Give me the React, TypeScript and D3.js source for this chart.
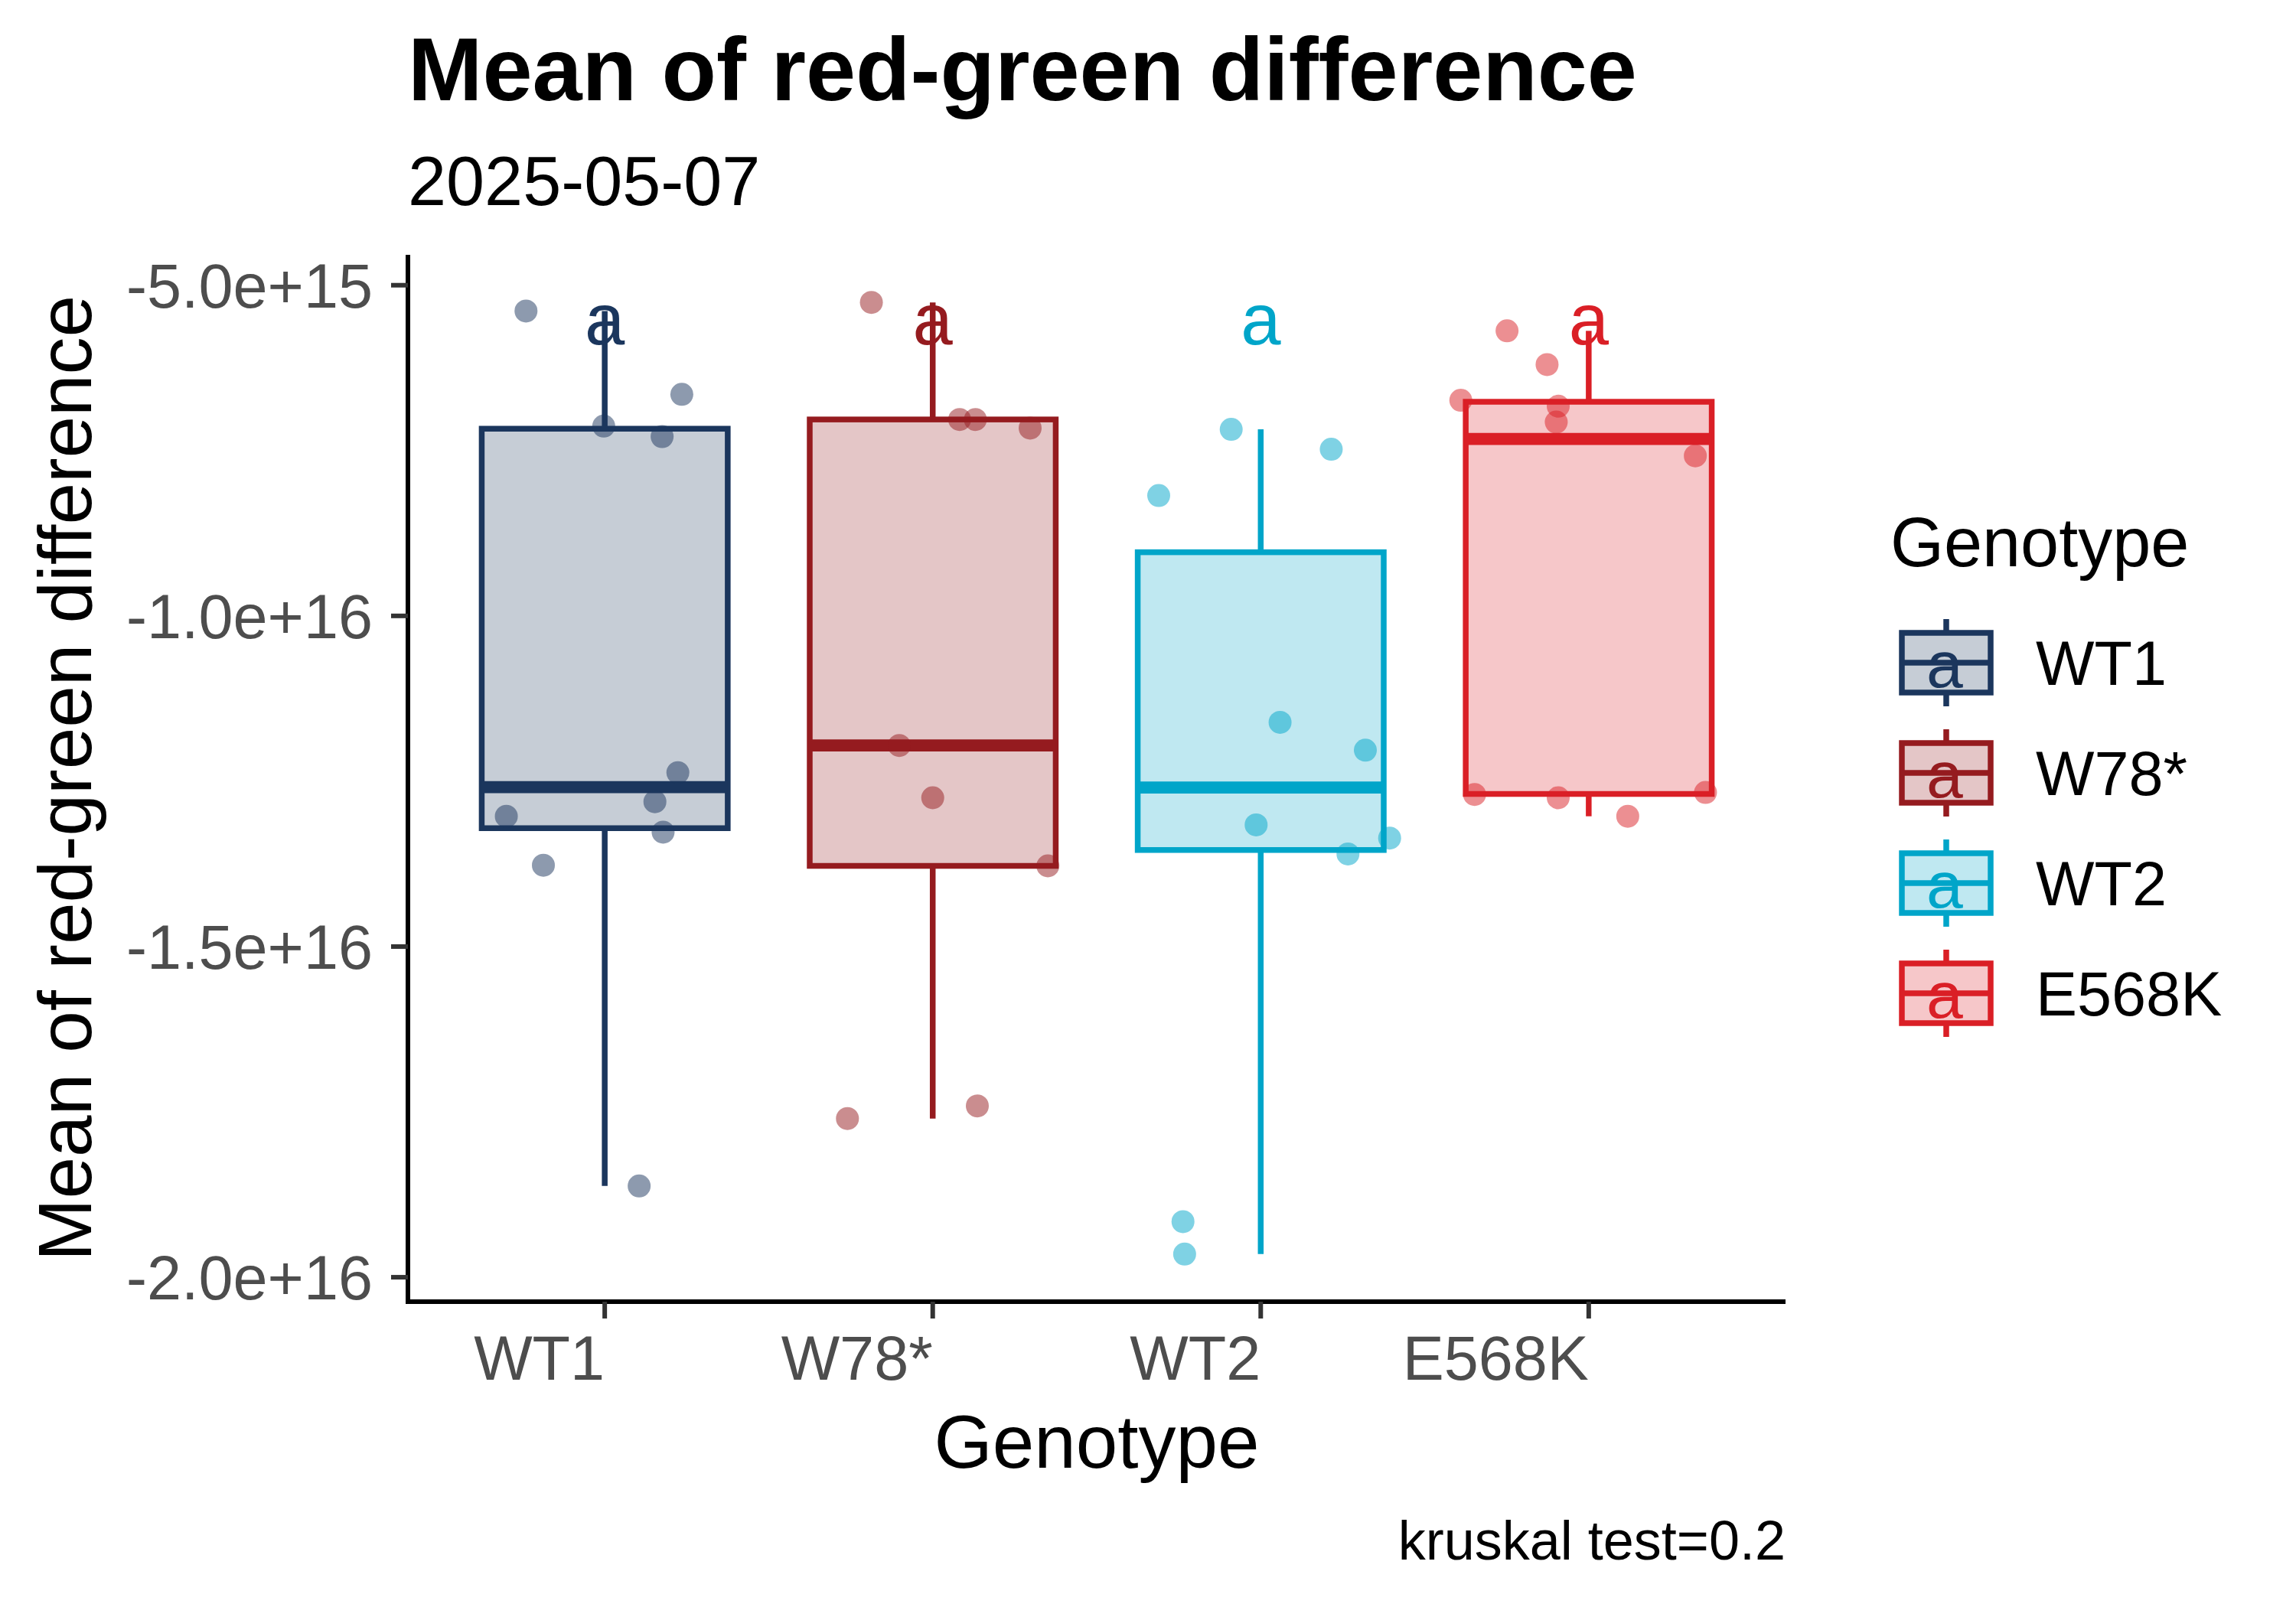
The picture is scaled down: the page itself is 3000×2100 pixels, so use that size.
import * as d3 from "d3";

// Groups, in the order of the axis
const genotypes = ["WT1", "W78*", "WT2", "E568K"];
const genotypeColors = ["#1B365D", "#951B1F", "#00A5C9", "#DA1F26"];
const groupLetters = ["a", "a", "a", "a"];

// Mean of red-green difference per sample
const wt1Values = [-5.39e15, -6.65e15, -7.13e15, -7.29e15, -12.37e15, -12.81e15, -13.03e15, -13.27e15, -13.77e15, -18.62e15];
const w78Values = [-5.26e15, -7.03e15, -7.03e15, -7.16e15, -11.96e15, -12.75e15, -13.78e15, -17.41e15, -17.6e15];
const wt2Values = [-7.18e15, -7.48e15, -8.18e15, -11.61e15, -12.03e15, -13.16e15, -13.36e15, -13.6e15, -19.16e15, -19.65e15];
const e568kValues = [-5.69e15, -6.2e15, -6.74e15, -6.83e15, -7.07e15, -7.58e15, -12.7e15, -12.75e15, -12.67e15, -13.03e15];

// horizontal jitter of each point, in category units
const wt1Jitter = [-0.24, 0.235, -0.003, 0.175, 0.223, 0.153, -0.3, 0.178, -0.187, 0.105];
const w78Jitter = [-0.187, 0.082, 0.13, 0.297, -0.102, 0.0, 0.351, 0.136, -0.26];
const wt2Jitter = [-0.09, 0.215, -0.311, 0.059, 0.319, -0.014, 0.393, 0.266, -0.237, -0.232];
const e568kJitter = [-0.249, -0.127, -0.39, -0.093, -0.099, 0.325, -0.348, -0.093, 0.356, 0.119];

const groupValues = [wt1Values, w78Values, wt2Values, e568kValues];
const groupJitter = [wt1Jitter, w78Jitter, wt2Jitter, e568kJitter];

const yTicks = [-5e15, -1e16, -1.5e16, -2e16];
const letterY = -5.9e15;

const titleText = "Mean of red-green difference";
const subtitleText = "2025-05-07";
const yTitle = "Mean of red-green difference";
const xTitle = "Genotype";
const legendTitle = "Genotype";
const captionText = "kruskal test=0.2";

const FONT = "'Liberation Sans', Arial, sans-serif";
const txt = { fontFamily: FONT };

function boxStats(values: number[]) {
  const s = [...values].sort(d3.ascending);
  const q1 = d3.quantile(s, 0.25)!;
  const med = d3.quantile(s, 0.5)!;
  const q3 = d3.quantile(s, 0.75)!;
  const iqr = q3 - q1;
  const lo = d3.min(s.filter((v) => v >= q1 - 1.5 * iqr))!;
  const hi = d3.max(s.filter((v) => v <= q3 + 1.5 * iqr))!;
  return { q1, med, q3, lo, hi };
}

export default function App() {
  const width = 3000;
  const height = 2100;
  const panel = { left: 533, right: 2333, top: 333, bottom: 1701 };

  const x = d3
    .scalePoint<string>()
    .domain(genotypes)
    .range([panel.left, panel.right])
    .padding(0.6);
  const step = x.step();
  const boxW = 0.75 * step;

  const all = groupValues.flat();
  const [minV, maxV] = d3.extent(all) as [number, number];
  const pad = (maxV - minV) * 0.05;
  const y = d3
    .scaleLinear()
    .domain([minV - pad, maxV + pad])
    .range([panel.bottom, panel.top]);

  const lw = 7.5;
  const stats = groupValues.map(boxStats);

  return (
    <div style={{ position: "absolute", left: 0, top: 0 }}>
      <svg width={width} height={height} viewBox={`0 0 ${width} ${height}`} style={{ display: "block", background: "#fff" }}>
        <rect width={width} height={height} fill="#fff" />

        {/* titles */}
        <text x={panel.left} y={131} fontSize={117} fontWeight="bold" fill="#000" style={txt}>{titleText}</text>
        <text x={panel.left} y={268} fontSize={90} fill="#000" style={txt}>{subtitleText}</text>

        {/* boxes */}
        {genotypes.map((g, i) => {
          const cx = x(g)!;
          const s = stats[i];
          const c = genotypeColors[i];
          return (
            <g key={g}>
              <line x1={cx} x2={cx} y1={y(s.q3)} y2={y(s.hi)} stroke={c} strokeWidth={lw} />
              <line x1={cx} x2={cx} y1={y(s.q1)} y2={y(s.lo)} stroke={c} strokeWidth={lw} />
              <rect
                x={cx - boxW / 2}
                y={y(s.q3)}
                width={boxW}
                height={y(s.q1) - y(s.q3)}
                fill={c}
                fillOpacity={0.25}
                stroke={c}
                strokeWidth={lw}
              />
              <line x1={cx - boxW / 2} x2={cx + boxW / 2} y1={y(s.med)} y2={y(s.med)} stroke={c} strokeWidth={lw * 2.1} />
            </g>
          );
        })}

        {/* jittered points */}
        {genotypes.map((g, i) =>
          groupValues[i].map((v, j) => (
            <circle
              key={`${g}-${j}`}
              cx={x(g)! + groupJitter[i][j] * step}
              cy={y(v)}
              r={15}
              fill={genotypeColors[i]}
              fillOpacity={0.5}
            />
          ))
        )}

        {/* significance letters */}
        {genotypes.map((g, i) => (
          <text key={`l-${g}`} x={x(g)!} y={y(letterY)} fontSize={94} textAnchor="middle" fill={genotypeColors[i]} style={txt}>
            {groupLetters[i]}
          </text>
        ))}

        {/* axes */}
        <line x1={panel.left} x2={panel.left} y1={panel.top} y2={panel.bottom + 3} stroke="#000" strokeWidth={6} />
        <line x1={panel.left - 3} x2={panel.right} y1={panel.bottom} y2={panel.bottom} stroke="#000" strokeWidth={6} />
        {yTicks.map((t) => (
          <g key={`yt-${t}`}>
            <line x1={panel.left - 22} x2={panel.left} y1={y(t)} y2={y(t)} stroke="#333333" strokeWidth={6} />
            <text x={487} y={y(t) + 29} fontSize={81} textAnchor="end" fill="#4D4D4D" style={txt}>
              {t.toExponential(1)}
            </text>
          </g>
        ))}
        {genotypes.map((g) => (
          <g key={`xt-${g}`}>
            <line x1={x(g)!} x2={x(g)!} y1={panel.bottom} y2={panel.bottom + 22} stroke="#333333" strokeWidth={6} />
            <text x={x(g)!} y={1803} fontSize={81} textAnchor="end" fill="#4D4D4D" style={txt}>
              {g}
            </text>
          </g>
        ))}

        <text x={(panel.left + panel.right) / 2} y={1918} fontSize={98} textAnchor="middle" fill="#000" style={txt}>{xTitle}</text>
        <text
          transform={`translate(119, ${(panel.top + panel.bottom) / 2}) rotate(-90)`}
          fontSize={98}
          textAnchor="middle"
          fill="#000"
          style={txt}
        >
          {yTitle}
        </text>
        <text x={panel.right} y={2038} fontSize={72} textAnchor="end" fill="#000" style={txt}>{captionText}</text>

        {/* legend */}
        <text x={2470} y={740} fontSize={90} fill="#000" style={txt}>{legendTitle}</text>
        {genotypes.map((g, i) => {
          const cx = 2543;
          const cy = 866 + i * 144;
          const c = genotypeColors[i];
          return (
            <g key={`lg-${g}`}>
              <line x1={cx} x2={cx} y1={cy - 57} y2={cy + 57} stroke={c} strokeWidth={lw} />
              <rect x={cx - 58} y={cy - 39} width={116} height={78} fill="#fff" />
              <rect x={cx - 58} y={cy - 39} width={116} height={78} fill={c} fillOpacity={0.25} stroke={c} strokeWidth={lw} />
              <line x1={cx - 58} x2={cx + 58} y1={cy} y2={cy} stroke={c} strokeWidth={lw} />
              <text x={cx - 2} y={cy + 32} fontSize={86} textAnchor="middle" fill={c} style={txt}>
                {groupLetters[i]}
              </text>
              <text x={2660} y={cy + 29} fontSize={81} fill="#000" style={txt}>
                {g}
              </text>
            </g>
          );
        })}
      </svg>
    </div>
  );
}
